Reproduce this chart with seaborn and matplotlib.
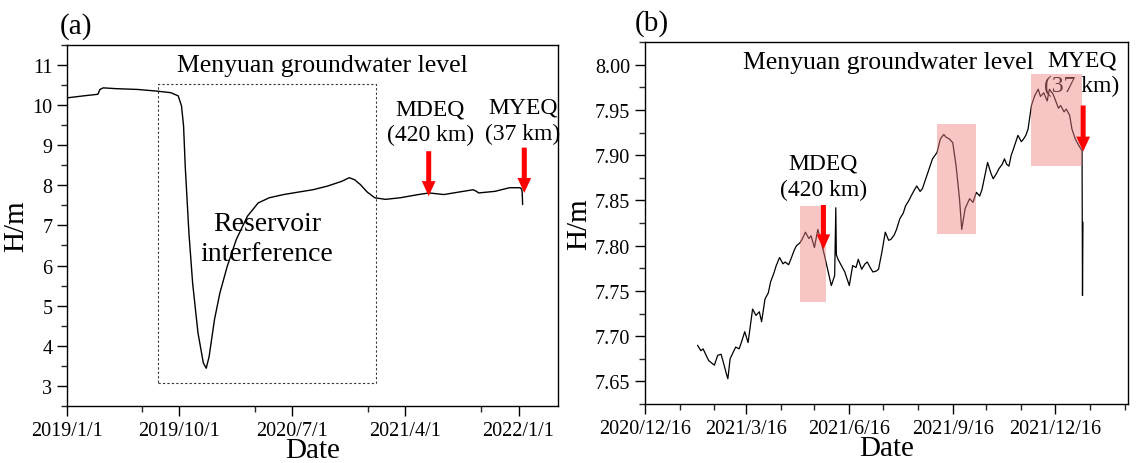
import pandas as pd
import numpy as np
import matplotlib
matplotlib.use('Agg')
import matplotlib.pyplot as plt
import matplotlib.dates as mdates
from matplotlib.patches import Rectangle
from matplotlib.ticker import MultipleLocator, FormatStrFormatter
import seaborn as sns

# panel (a): days after 2019/1/1 and water level (m)
start_a = '2019-01-01'
days_a = [0, 40, 75, 80, 88, 119, 172, 217, 252, 270,
          278, 283, 287, 296, 305, 318, 331, 338, 345, 358,
          371, 389, 411, 438, 464, 491, 526, 561, 597, 632,
          667, 685, 698, 712, 729, 747, 773, 809, 853, 879,
          915, 950, 986, 994, 999, 1039, 1074, 1100, 1104, 1105,
          1106]
level_a = [10.18, 10.23, 10.27, 10.39, 10.43, 10.41, 10.39, 10.35, 10.31, 10.23,
           9.98, 9.48, 8.48, 6.81, 5.56, 4.32, 3.57, 3.44, 3.73, 4.65,
           5.31, 5.98, 6.65, 7.23, 7.56, 7.69, 7.77, 7.83, 7.89, 7.98,
           8.10, 8.19, 8.14, 8.02, 7.83, 7.69, 7.65, 7.69, 7.77, 7.81,
           7.77, 7.83, 7.89, 7.85, 7.81, 7.85, 7.94, 7.94, 7.90, 7.81,
           7.52]

# panel (b): days after 2020/12/16 and water level (m)
start_b = '2020-12-16'
days_b = [47, 50, 52, 55, 57, 60, 62, 65, 68, 70,
          73, 74, 76, 79, 81, 84, 86, 89, 92, 96,
          99, 102, 104, 107, 110, 112, 115, 117, 120, 123,
          125, 128, 130, 133, 135, 138, 140, 143, 146, 148,
          151, 154, 157, 160, 164, 166, 169, 170, 170.5, 172,
          175, 178, 182, 185, 188, 190, 193, 196, 198, 201,
          203, 206, 208, 211, 214, 217, 219, 222, 224, 227,
          230, 232, 235, 237, 240, 242, 245, 247, 250, 253,
          256, 260, 263, 266, 268, 271, 274, 277, 280, 282,
          285, 289, 292, 295, 298, 300, 302, 305, 308, 310,
          313, 315, 318, 320, 322, 324, 326, 328, 332, 335,
          337, 339, 341, 344, 347, 350, 352, 355, 358, 360,
          363, 365, 368, 370, 373, 375, 378, 380, 383, 386,
          389, 389.4, 389.8]
level_b = [7.690, 7.684, 7.686, 7.678, 7.673, 7.670, 7.668, 7.679, 7.680, 7.671,
           7.657, 7.653, 7.675, 7.683, 7.688, 7.686, 7.693, 7.705, 7.693, 7.730,
           7.723, 7.727, 7.716, 7.741, 7.748, 7.760, 7.770, 7.778, 7.787, 7.780,
           7.782, 7.779, 7.785, 7.795, 7.800, 7.803, 7.807, 7.815, 7.808, 7.811,
           7.798, 7.818, 7.804, 7.789, 7.767, 7.756, 7.767, 7.842, 7.790, 7.785,
           7.778, 7.771, 7.756, 7.778, 7.776, 7.785, 7.774, 7.780, 7.782, 7.775,
           7.771, 7.772, 7.774, 7.793, 7.815, 7.806, 7.807, 7.812, 7.818, 7.830,
           7.836, 7.844, 7.850, 7.855, 7.862, 7.866, 7.860, 7.863, 7.874, 7.885,
           7.896, 7.903, 7.918, 7.923, 7.920, 7.918, 7.914, 7.888, 7.852, 7.818,
           7.841, 7.852, 7.848, 7.859, 7.855, 7.862, 7.874, 7.892, 7.880, 7.874,
           7.880, 7.885, 7.890, 7.896, 7.890, 7.888, 7.900, 7.907, 7.922, 7.915,
           7.918, 7.922, 7.929, 7.955, 7.966, 7.973, 7.965, 7.969, 7.960, 7.973,
           7.968, 7.962, 7.952, 7.955, 7.948, 7.951, 7.944, 7.929, 7.918, 7.911,
           7.905, 7.745, 7.826]

# highlighted windows in panel (b)
box_start = ['2021-05-03', '2021-09-02', '2021-11-25']
box_end = ['2021-05-26', '2021-10-07', '2022-01-09']
box_low = [7.7375, 7.813, 7.888]
box_high = [7.844, 7.935, 7.990]

df_a = pd.DataFrame({'Date': pd.Timestamp(start_a) + pd.to_timedelta(days_a, unit='D'),
                     'H': level_a})
df_b = pd.DataFrame({'Date': pd.Timestamp(start_b) + pd.to_timedelta(days_b, unit='D'),
                     'H': level_b})

sns.set_style('ticks')
plt.rcParams['font.family'] = ['Liberation Serif', 'DejaVu Serif']
plt.rcParams['text.color'] = 'black'
plt.rcParams['axes.labelcolor'] = 'black'

fig = plt.figure(figsize=(11.43, 4.64), dpi=100)
ax1 = fig.add_axes([0.0586, 0.123, 0.430, 0.778])
ax2 = fig.add_axes([0.564, 0.127, 0.423, 0.780])

arrow = dict(arrowstyle='simple,head_width=0.55,head_length=0.6,tail_width=0.2',
             color='red', lw=0, mutation_scale=18, shrinkA=0, shrinkB=0)


def ts(s):
    return mdates.date2num(pd.Timestamp(s))


# ---- panel (a)
sns.lineplot(x='Date', y='H', data=df_a, ax=ax1, color='black', linewidth=1)
ax1.set_xlim(pd.Timestamp('2019-01-01'), pd.Timestamp('2022-04-08'))
ax1.set_ylim(2.5, 11.5)
ax1.set_xticks(pd.to_datetime(['2019-01-01', '2019-10-01', '2020-07-01', '2021-04-01', '2022-01-01']))
ax1.set_xticks(pd.to_datetime(['2019-07-01', '2020-04-01', '2021-01-01', '2021-10-01']), minor=True)
ax1.set_xticklabels(['2019/1/1', '2019/10/1', '2020/7/1', '2021/4/1', '2022/1/1'])
ax1.yaxis.set_major_locator(MultipleLocator(1))
ax1.yaxis.set_minor_locator(MultipleLocator(0.5))
ax1.add_patch(Rectangle((ts('2019-08-10'), 3.07), ts('2021-01-20') - ts('2019-08-10'),
                        10.52 - 3.07, fill=False, ls=(0, (2, 2)), lw=0.8, ec='#333333'))
ax1.text(pd.Timestamp('2020-09-13'), 11.0, 'Menyuan groundwater level', ha='center', va='center', fontsize=18.5)
ax1.text(pd.Timestamp('2020-05-01'), 6.68, 'Reservoir\ninterference', ha='center', va='center',
         fontsize=20, linespacing=1.25)
ax1.text(pd.Timestamp('2021-06-01'), 9.58, 'MDEQ\n(420 km)', ha='center', va='center', fontsize=17, linespacing=1.3)
ax1.text(pd.Timestamp('2022-01-12'), 9.62, 'MYEQ\n(37 km)', ha='center', va='center', fontsize=17, linespacing=1.3)
ax1.annotate('', xy=(pd.Timestamp('2021-05-28'), 7.73), xytext=(pd.Timestamp('2021-05-28'), 8.85), arrowprops=arrow)
ax1.annotate('', xy=(pd.Timestamp('2022-01-15'), 7.81), xytext=(pd.Timestamp('2022-01-15'), 8.94), arrowprops=arrow)
ax1.text(-0.015, 1.053, '(a)', transform=ax1.transAxes, fontsize=21, ha='left', va='center')

# ---- panel (b)
sns.lineplot(x='Date', y='H', data=df_b, ax=ax2, color='black', linewidth=0.9)
ax2.set_xlim(pd.Timestamp('2020-12-16'), pd.Timestamp('2022-02-19'))
ax2.set_ylim(7.625, 8.025)
ax2.set_xticks(pd.to_datetime(['2020-12-16', '2021-03-16', '2021-06-16', '2021-09-16', '2021-12-16']))
ax2.set_xticks(pd.to_datetime(['2021-01-16', '2021-02-16', '2021-04-16', '2021-05-16', '2021-07-16',
                               '2021-08-16', '2021-10-16', '2021-11-16', '2022-01-16', '2022-02-16']), minor=True)
ax2.set_xticklabels(['2020/12/16', '2021/3/16', '2021/6/16', '2021/9/16', '2021/12/16'])
ax2.yaxis.set_major_locator(MultipleLocator(0.05))
ax2.yaxis.set_minor_locator(MultipleLocator(0.025))
ax2.yaxis.set_major_formatter(FormatStrFormatter('%.2f'))
ax2.text(pd.Timestamp('2021-07-21'), 8.003, 'Menyuan groundwater level', ha='center', va='center', fontsize=18.5)
ax2.text(pd.Timestamp('2021-05-24'), 7.877, 'MDEQ\n(420 km)', ha='center', va='center', fontsize=17, linespacing=1.3)
ax2.text(pd.Timestamp('2022-01-09'), 7.991, 'MYEQ\n(37 km)', ha='center', va='center', fontsize=17, linespacing=1.3)
for s, e, lo, hi in zip(box_start, box_end, box_low, box_high):
    ax2.add_patch(Rectangle((ts(s), lo), ts(e) - ts(s), hi - lo, color='#f08080', alpha=0.45, lw=0, zorder=3))
ax2.annotate('', xy=(pd.Timestamp('2021-05-24'), 7.796), xytext=(pd.Timestamp('2021-05-24'), 7.845),
             arrowprops=arrow, zorder=5)
ax2.annotate('', xy=(pd.Timestamp('2022-01-10'), 7.904), xytext=(pd.Timestamp('2022-01-10'), 7.955),
             arrowprops=arrow, zorder=5)
ax2.text(-0.02, 1.055, '(b)', transform=ax2.transAxes, fontsize=21, ha='left', va='center')

for ax in (ax1, ax2):
    ax.set_xlabel('Date', fontsize=21, labelpad=-2)
    ax.set_ylabel('H/m', fontsize=21, labelpad=2)
    ax.tick_params(axis='both', which='major', length=7, width=1, labelsize=14.5, direction='out', colors='black')
    ax.tick_params(axis='both', which='minor', length=4, width=1, direction='out')
    ax.tick_params(top=False, right=False, which='both')
    for sp in ax.spines.values():
        sp.set_visible(True)
        sp.set_linewidth(1)
        sp.set_color('black')

fig.savefig('out.png', dpi=100)
